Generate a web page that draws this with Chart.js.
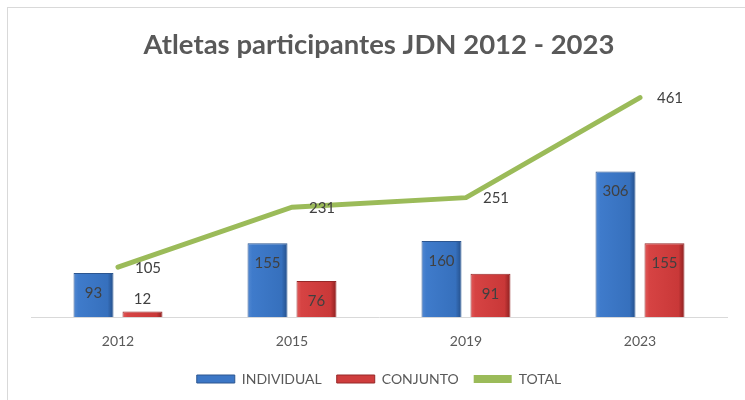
<!DOCTYPE html>
<html lang="es">
<head>
    <meta charset="UTF-8">
    <title>Atletas participantes JDN</title>
    <script src="https://cdn.jsdelivr.net/npm/chart.js"></script>
    <style>
        body {
            margin: 0;
            padding: 0;
            background: #fff;
        }
        .wrap {
            position: relative;
            width: 745px;
            height: 400px;
            overflow: hidden;
        }
        .frame {
            position: absolute;
            left: 7px;
            top: 7px;
            width: 800px;
            height: 450px;
            border: 1px solid #d9d9d9;
        }
        canvas {
            position: absolute;
            left: 0;
            top: 0;
        }
    </style>
</head>
<body>
    <div class="wrap">
        <div class="frame"></div>
        <canvas id="atletas" width="745" height="400"></canvas>
    </div>
    <script>
        const years = ['2012', '2015', '2019', '2023'];
        const individual = [93, 155, 160, 306];
        const conjunto = [12, 76, 91, 155];
        const total = [105, 231, 251, 461];

        const FONT = 'Lato, "Open Sans", sans-serif';

        // horizontal bevel-ish gradient per bar
        function barFill(stops, fallback) {
            return (ctx) => {
                const chart = ctx.chart;
                const meta = chart.getDatasetMeta(ctx.datasetIndex);
                const el = meta.data[ctx.dataIndex];
                if (!el || !el.width) return fallback;
                const x0 = el.x - el.width / 2;
                const x1 = el.x + el.width / 2;
                const g = chart.ctx.createLinearGradient(x0, 0, x1, 0);
                stops.forEach(s => g.addColorStop(s[0], s[1]));
                return g;
            };
        }

        const valueLabels = {
            id: 'valueLabels',
            afterDatasetsDraw(chart) {
                const c = chart.ctx;
                c.save();
                c.font = '15px ' + FONT;
                c.fillStyle = '#404040';
                c.textAlign = 'center';
                c.textBaseline = 'middle';
                chart.data.datasets.forEach((ds, i) => {
                    const meta = chart.getDatasetMeta(i);
                    meta.data.forEach((el, j) => {
                        const v = ds.data[j];
                        if (ds.type === 'line') {
                            c.fillText(v, el.x + 30, el.y + 1);
                        } else {
                            const h = el.base - el.y;
                            if (h < 30) {
                                c.fillText(v, el.x, el.y - 12);
                            } else {
                                c.fillText(v, el.x, el.y + 20);
                            }
                        }
                    });
                });
                c.restore();
            }
        };

        const chart = new Chart(document.getElementById('atletas'), {
            type: 'bar',
            data: {
                labels: years,
                datasets: [
                    {
                        label: 'INDIVIDUAL',
                        data: individual,
                        backgroundColor: barFill([[0, '#5389d2'], [0.12, '#3f7bcb'], [0.85, '#3670bd'], [1, '#244f8a']], '#3c77c6'),
                        borderColor: '#2c5690',
                        borderWidth: 1,
                        categoryPercentage: 0.563,
                        barPercentage: 0.816
                    },
                    {
                        label: 'CONJUNTO',
                        data: conjunto,
                        backgroundColor: barFill([[0, '#e25a5a'], [0.12, '#d64343'], [0.85, '#c93838'], [1, '#8c2020']], '#cf3d3d'),
                        borderColor: '#962828',
                        borderWidth: 1,
                        categoryPercentage: 0.563,
                        barPercentage: 0.816
                    },
                    {
                        type: 'line',
                        label: 'TOTAL',
                        data: total,
                        borderColor: '#9bbb59',
                        backgroundColor: '#9bbb59',
                        borderWidth: 5,
                        pointRadius: 0,
                        tension: 0,
                        borderCapStyle: 'round',
                        order: -1
                    }
                ]
            },
            options: {
                responsive: false,
                animation: false,
                layout: {
                    padding: { top: 29, left: 31, right: 18, bottom: 4 }
                },
                scales: {
                    x: {
                        grid: { display: false, drawTicks: false },
                        border: { display: true, color: '#d9d9d9', width: 1 },
                        ticks: {
                            color: '#595959',
                            font: { family: FONT, size: 14 },
                            padding: 16
                        },
                        // pull the axis down towards the legend
                        afterFit(scale) {
                            scale.height -= 9;
                        }
                    },
                    y: {
                        display: false,
                        min: 0,
                        max: 500
                    }
                },
                plugins: {
                    title: {
                        display: true,
                        text: 'Atletas participantes JDN 2012 - 2023',
                        color: '#595959',
                        font: { family: FONT, size: 27.5, weight: 'bold' },
                        padding: { top: 0, bottom: 17 }
                    },
                    legend: {
                        position: 'bottom',
                        labels: {
                            color: '#595959',
                            font: { family: FONT, size: 14 },
                            boxWidth: 38,
                            boxHeight: 8,
                            padding: 15,
                            sort: (a, b) => a.datasetIndex - b.datasetIndex,
                            generateLabels(chart) {
                                const items = Chart.defaults.plugins.legend.labels.generateLabels(chart);
                                items.forEach(it => {
                                    if (it.text === 'INDIVIDUAL') {
                                        it.fillStyle = '#3c77c6';
                                        it.strokeStyle = '#2c5690';
                                        it.lineWidth = 1;
                                    } else if (it.text === 'CONJUNTO') {
                                        it.fillStyle = '#cf3d3d';
                                        it.strokeStyle = '#962828';
                                        it.lineWidth = 1;
                                    } else {
                                        it.fillStyle = '#9bbb59';
                                        it.strokeStyle = '#9bbb59';
                                        it.lineWidth = 0;
                                    }
                                });
                                return items;
                            }
                        }
                    },
                    tooltip: { enabled: false }
                }
            },
            plugins: [valueLabels]
        });
        // second pass so the bar gradients know their final geometry
        chart.update('none');
    </script>
</body>
</html>
